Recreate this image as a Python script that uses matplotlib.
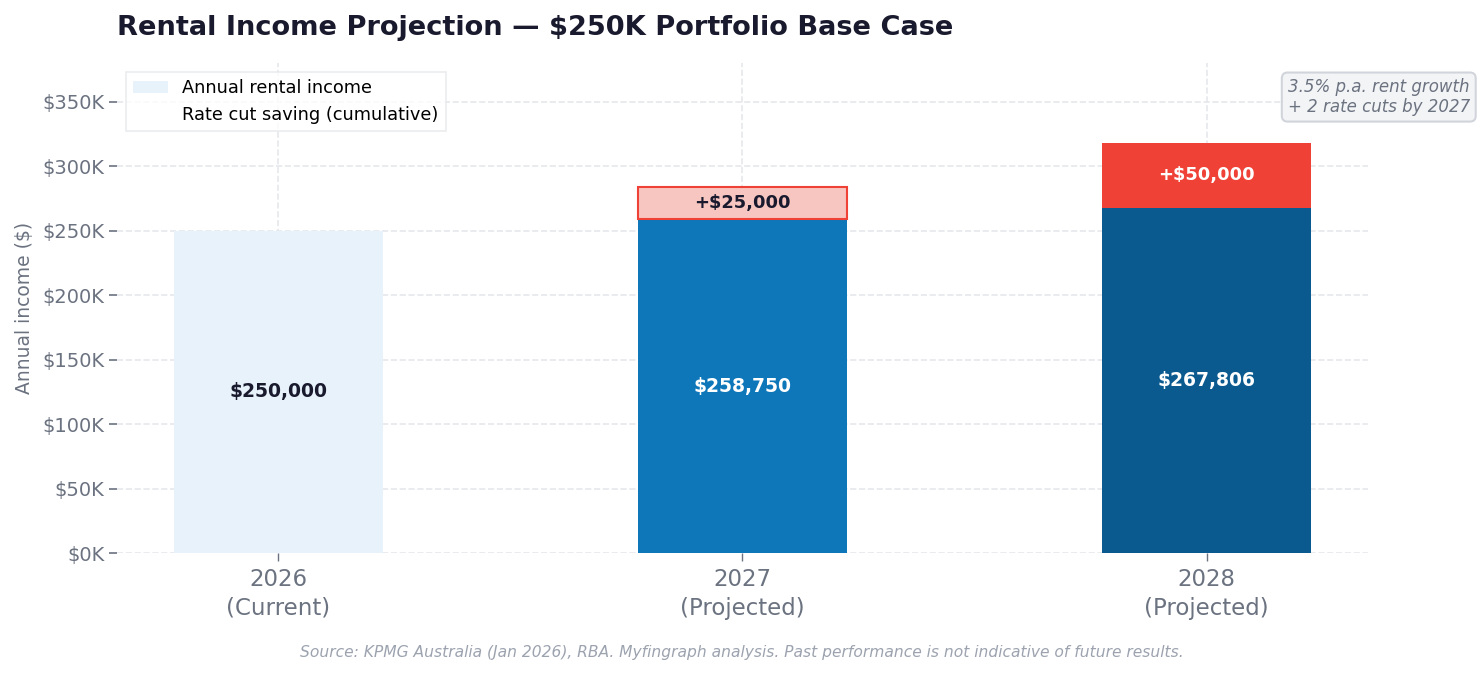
"""
Rental income projection - stacked bars with rate cut saving
"""

import matplotlib
matplotlib.use("Agg")
import matplotlib.pyplot as plt
from matplotlib.patches import Patch
from matplotlib.ticker import FuncFormatter

# data
years = ["2026\n(Current)", "2027\n(Projected)", "2028\n(Projected)"]
rental_income = [250000, 258750, 267806]
rate_cut_saving = [0, 25000, 50000]

income_colors = ["#E8F2FB", "#0E77BA", "#0A5A8F"]
income_text_colors = ["#1A1A2E", "white", "white"]
saving_colors = ["#F8C6C1", "#F8C6C1", "#EF4136"]
saving_text_colors = ["#1A1A2E", "#1A1A2E", "white"]

TEXT_DARK = "#1A1A2E"
TEXT_GRAY = "#6B7280"
GRID = "#E5E7EB"

fig = plt.figure(figsize=(14.84, 6.74), dpi=100)
ax = fig.add_axes([0.0788, 0.1795, 0.8430, 0.7270])

x = list(range(len(years)))
width = 0.45

# base bars
bars = ax.bar(x, rental_income, width=width, color=income_colors, zorder=3)
for b, val, tc in zip(bars, rental_income, income_text_colors):
    ax.text(b.get_x() + b.get_width() / 2, val / 2, f"${val:,.0f}",
            ha="center", va="center", fontsize=13.5, fontweight="bold",
            color=tc, zorder=4)

# rate cut saving stacked on top
for i, (base, sav) in enumerate(zip(rental_income, rate_cut_saving)):
    if sav == 0:
        continue
    lw = 1.5 if i == 1 else 0
    ax.bar(x[i], sav, width=width, bottom=base, color=saving_colors[i],
           edgecolor="#EF4136", linewidth=lw, zorder=3)
    ax.text(x[i], base + sav / 2, f"+${sav:,.0f}", ha="center", va="center",
            fontsize=12.9, fontweight="bold", color=saving_text_colors[i], zorder=4)

ax.set_ylim(0, 380000)
ax.set_xticks(x)
ax.set_xticklabels(years, fontsize=16.5, color=TEXT_GRAY, linespacing=1.3)
ax.yaxis.set_major_formatter(FuncFormatter(lambda v, p: f"${v/1000:.0f}K"))
ax.tick_params(axis="y", labelsize=14, colors=TEXT_GRAY, length=6, width=1.2, pad=3)
ax.tick_params(axis="x", colors=TEXT_GRAY, length=6, width=1.0, pad=5)
ax.set_ylabel("Annual income ($)", fontsize=13.5, color=TEXT_GRAY, labelpad=6)

for s in ax.spines.values():
    s.set_visible(False)
ax.grid(True, linestyle="--", color=GRID, linewidth=1.2, zorder=0)
ax.set_axisbelow(True)

handles = [Patch(facecolor=income_colors[0], label="Annual rental income"),
           Patch(facecolor="white", label="Rate cut saving (cumulative)")]
leg = ax.legend(handles=handles, loc="upper left", fontsize=12.75,
                frameon=True, fancybox=False, edgecolor=GRID,
                bbox_to_anchor=(0.0, 0.999))
leg.get_frame().set_linewidth(1.2)

fig.text(0.0788, 0.959, "Rental Income Projection \u2014 $250K Portfolio Base Case",
         ha="left", va="center", fontsize=19.6, fontweight="bold", color=TEXT_DARK)

fig.text(0.9905, 0.856, "3.5% p.a. rent growth\n+ 2 rate cuts by 2027",
         ha="right", va="center", fontsize=12, style="italic", color=TEXT_GRAY,
         linespacing=1.1,
         bbox=dict(boxstyle="round,pad=0.35", facecolor="#F3F4F6",
                   edgecolor="#D1D5DB", linewidth=1.5))

fig.text(0.5, 0.032,
         "Source: KPMG Australia (Jan 2026), RBA. Myfingraph analysis. "
         "Past performance is not indicative of future results.",
         ha="center", va="center", fontsize=11.2, style="italic", color="#9CA3AF")

plt.savefig("out.png", dpi=100)
